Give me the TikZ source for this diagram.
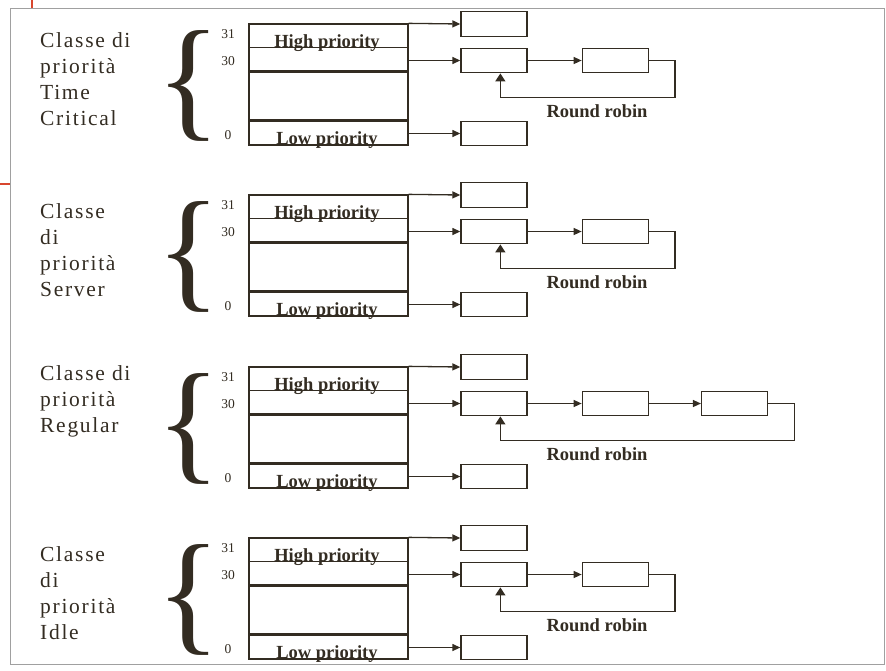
\documentclass[tikz,border=0pt]{standalone}
\usepackage{fontspec}
\setmainfont{Liberation Serif}
\usetikzlibrary{arrows.meta, positioning, calc}
\definecolor{ink}{HTML}{332C22}
\definecolor{framegray}{HTML}{A0A0A0}
\definecolor{scanred}{HTML}{D8462E}

\begin{document}
\begin{tikzpicture}[x=1pt, y=-1pt,
    line/.style={ink, line width=1.3pt},
    heavy/.style={ink, line width=2.6pt},
    flow/.style={line, -{Triangle[length=8pt, width=7pt]}},
    rrflow/.style={line, -{Triangle[length=8pt, width=10pt]}},
    tabbox/.style={draw=ink, line width=1.3pt, minimum width=159pt, minimum height=121pt, inner sep=0pt},
    qbox/.style={draw=ink, line width=1.3pt, minimum width=66pt, minimum height=24.5pt, inner sep=0pt},
    prio/.style={font=\fontsize{18.5}{20}\selectfont\bfseries, text=ink, inner sep=0pt, anchor=base},
    lvl/.style={font=\fontsize{13.5}{14}\selectfont, text=ink, inner sep=0pt},
    cls/.style={font=\fontsize{21.5}{26}\selectfont\addfontfeature{LetterSpace=8}, text=ink, align=left, anchor=north west, inner sep=0pt},
    brc/.style={font=\fontsize{134}{134}\selectfont, text=ink, inner sep=0pt}]
    \useasboundingbox (0,0) rectangle (886,670);

    % Frame and scan marks
    \draw[framegray, line width=1pt] (10,8) rectangle (884,664);
    \draw[scanred, line width=1.3pt] (32,0) -- (32,8);
    \draw[scanred, line width=1.3pt] (0,184) -- (10,184);

    % One panel per priority class
    \foreach \i/\T/\ly/\lbl in {1/24/8/{Classe di\\priorità\\Time\\Critical},
                                2/195/8/{Classe\\di\\priorità\\Server},
                                3/367/-2/{Classe di\\priorità\\Regular},
                                4/538/8/{Classe\\di\\priorità\\Idle}} {
        % class label and brace
        \node[cls] (cls\i) at (40, \T+\ly) {\lbl};
        \node[brc] (br\i) at (189, \T+62) {\{};

        % priority table
        \node[tabbox] (tab\i) at (328.5, \T+60.5) {};
        \draw[line] ($(tab\i.north west)+(0,24)$) -- ($(tab\i.north east)+(0,24)$);
        \draw[heavy] ($(tab\i.north west)+(0,48)$) -- ($(tab\i.north east)+(0,48)$);
        \draw[heavy] ($(tab\i.north west)+(0,97)$) -- ($(tab\i.north east)+(0,97)$);
        \node[prio] (hi\i) at (327, \T+23) {High priority};
        \node[prio] (lo\i) at (327, \T+120) {Low priority};
        \node[lvl] (n31\i) at (228, \T+10) {31};
        \node[lvl] (n30\i) at (228, \T+37) {30};
        \node[lvl] (n0\i) at (228, \T+111) {0};

        % ready queues
        \node[qbox] (qa\i) at (494, \T) {};
        \node[qbox] (qb\i) at (494, \T+36.5) {};
        \node[qbox] (qc\i) [right=54pt of qb\i] {};
        \node[qbox] (ql\i) at (494, \T+109.5) {};
        \draw[flow] (tab\i.north east) -- (qa\i.west);
        \draw[flow] (tab\i.east |- qb\i.west) -- (qb\i.west);
        \draw[flow] (qb\i) -- (qc\i);
        \draw[flow] (tab\i.east |- ql\i.west) -- (ql\i.west);
        \coordinate (rr\i) at ($(qb\i.south west)+(40,0)$);
        \node[prio, anchor=center] (rrl\i) at (597, \T+87) {Round robin};
    }

    % Regular class has one more thread
    \node[qbox] (qd3) [right=52pt of qc3] {};
    \draw[flow] (qc3) -- (qd3);

    % Round robin return
    \foreach \i/\q in {1/qc1, 2/qc2, 3/qd3, 4/qc4}
        \draw[rrflow] (\q.east) -- ++(26,0) |- ($(rr\i)+(0,24)$) -- (rr\i);
\end{tikzpicture}
\end{document}
